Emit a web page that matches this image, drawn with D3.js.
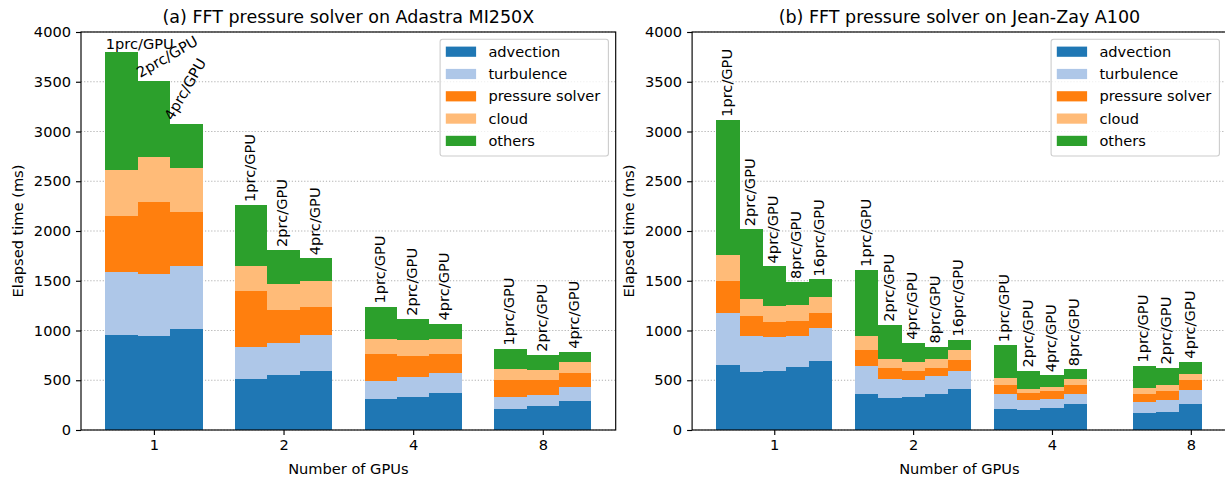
<!DOCTYPE html>
<html>
<head>
<meta charset="utf-8">
<script src="https://cdn.jsdelivr.net/npm/d3@7"></script>
<style>
  html, body { margin: 0; padding: 0; background: #fff; }
  svg { display: block; font-family: "DejaVu Sans", sans-serif; }
</style>
</head>
<body>
<svg id="chart" width="1225" height="477"></svg>
<script>
// GPU counts on the x axis
const gpuCounts = ["1", "2", "4", "8"];

// Processes per GPU tried for each GPU count
const adastraRuns = [[1, 2, 4], [1, 2, 4], [1, 2, 4], [1, 2, 4]];
const jeanZayRuns = [[1, 2, 4, 8, 16], [1, 2, 4, 8, 16], [1, 2, 4, 8], [1, 2, 4]];

// Time per component (ms), one value per bar, in run order
const adastraAdvection  = [950, 943, 1020, 517, 550, 591, 314, 328, 371, 214, 237, 288];
const adastraTurbulence = [634, 627, 631, 315, 326, 359, 181, 207, 201, 120, 118, 140];
const adastraPressure   = [570, 722, 537, 564, 335, 288, 268, 207, 191, 171, 143, 144];
const adastraCloud      = [463, 450, 450, 252, 252, 262, 147, 158, 147, 107, 104, 110];
const adastraOthers     = [1185, 765, 436, 614, 346, 225, 331, 217, 160, 207, 154, 104];

const jeanZayAdvection  = [658, 587, 597, 631, 698, 366, 322, 336, 359, 416, 213, 197, 217, 257, 167, 183, 263];
const jeanZayTurbulence = [516, 356, 333, 312, 325, 275, 191, 171, 181, 181, 147, 103, 96, 106, 116, 120, 140];
const jeanZayPressure   = [326, 205, 154, 154, 148, 168, 111, 90, 88, 111, 90, 73, 77, 90, 77, 87, 97];
const jeanZayCloud      = [258, 164, 161, 155, 168, 134, 87, 88, 87, 97, 73, 40, 43, 60, 63, 60, 63];
const jeanZayOthers     = [1359, 705, 399, 235, 174, 668, 346, 191, 124, 104, 330, 184, 117, 97, 224, 177, 124];

const seriesNames = ["advection", "turbulence", "pressure solver", "cloud", "others"];
const seriesColors = ["#1f77b4", "#aec7e8", "#ff7f0e", "#ffbb78", "#2ca02c"];

const yTicks = [0, 500, 1000, 1500, 2000, 2500, 3000, 3500, 4000];

const svg = d3.select("#chart");
const FS = 14.6;       // base font size
const TOP = 32, BOTTOM = 430;

const panels = [
  {
    title: "(a) FFT pressure solver on Adastra MI250X",
    left: 81, right: 615.7,
    runs: adastraRuns,
    series: [adastraAdvection, adastraTurbulence, adastraPressure, adastraCloud, adastraOthers],
    barWidth: 0.25, centreSlot: 1,
    // the tallest group gets slanted labels so they stay inside the axes
    labelAngle: (g, i) => g === 0 ? [0, 30, 60][i] : 90
  },
  {
    title: "(b) FFT pressure solver on Jean-Zay A100",
    left: 692.1, right: 1226.7,
    runs: jeanZayRuns,
    series: [jeanZayAdvection, jeanZayTurbulence, jeanZayPressure, jeanZayCloud, jeanZayOthers],
    barWidth: 1 / 6, centreSlot: 2,
    labelAngle: () => 90
  }
];

panels.forEach(p => drawPanel(p));

function drawPanel(p) {
  // flatten runs into bars
  const bars = [];
  let k = 0;
  p.runs.forEach((procs, g) => {
    procs.forEach((n, i) => {
      const vals = p.series.map(s => s[k]);
      let acc = 0;
      const segs = vals.map((v, si) => { const y0 = acc; acc += v; return { y0, y1: acc, si }; });
      bars.push({ g, i, procs: n, pos: g + (i - p.centreSlot) * p.barWidth, segs, total: acc });
      k++;
    });
  });

  const lo = d3.min(bars, b => b.pos) - p.barWidth / 2;
  const hi = d3.max(bars, b => b.pos) + p.barWidth / 2;
  const pad = 0.05 * (hi - lo);
  const x = d3.scaleLinear().domain([lo - pad, hi + pad]).range([p.left, p.right]);
  const y = d3.scaleLinear().domain([0, 4000]).range([BOTTOM, TOP]);

  const root = svg.append("g");

  // horizontal dotted grid
  root.append("g").selectAll("line").data(yTicks).join("line")
    .attr("x1", p.left).attr("x2", p.right)
    .attr("y1", d => y(d)).attr("y2", d => y(d))
    .attr("stroke", "#b0b0b0").attr("stroke-width", 1.1)
    .attr("stroke-dasharray", "1.2,1.9");

  // stacked bars
  const barG = root.append("g").attr("shape-rendering", "crispEdges");
  bars.forEach(b => {
    const bw = x(b.pos + p.barWidth / 2) - x(b.pos - p.barWidth / 2);
    barG.selectAll(null).data(b.segs).join("rect")
      .attr("x", x(b.pos - p.barWidth / 2))
      .attr("width", bw)
      .attr("y", d => y(d.y1))
      .attr("height", d => y(d.y0) - y(d.y1))
      .attr("fill", d => seriesColors[d.si]);
  });

  // run labels above each bar
  const labG = root.append("g").attr("font-size", FS).attr("fill", "#000");
  bars.forEach(b => {
    const ang = p.labelAngle(b.g, b.i);
    const txt = b.procs + "prc/GPU";
    const top = y(b.total);
    if (ang === 90) {
      labG.append("text")
        .attr("transform", `translate(${x(b.pos)},${top - 3}) rotate(-90)`)
        .attr("text-anchor", "start")
        .attr("y", 0.26 * FS)
        .text(txt);
    } else {
      const x0 = x(b.pos - p.barWidth / 2) + (ang === 0 ? 0.5 : 2.5);
      labG.append("text")
        .attr("transform", `translate(${x0},${top - 3}) rotate(${-ang})`)
        .attr("text-anchor", "start")
        .text(txt);
    }
  });

  // axes frame
  root.append("rect")
    .attr("x", p.left).attr("y", TOP)
    .attr("width", p.right - p.left).attr("height", BOTTOM - TOP)
    .attr("fill", "none").attr("stroke", "#000").attr("stroke-width", 1.15);

  // y axis
  const yAxis = d3.axisLeft(y).tickValues(yTicks).tickSize(5).tickPadding(5).tickFormat(d3.format("d"));
  const ya = root.append("g").attr("transform", `translate(${p.left},0)`).call(yAxis);
  ya.select(".domain").remove();
  ya.selectAll(".tick line").attr("stroke-width", 1.15);
  ya.selectAll(".tick text").attr("font-size", FS).attr("font-family", "DejaVu Sans").attr("fill", "#000");

  // x axis
  const xAxis = d3.axisBottom(x).tickValues(gpuCounts.map((_, i) => i))
    .tickFormat(i => gpuCounts[i]).tickSize(5).tickPadding(5);
  const xa = root.append("g").attr("transform", `translate(0,${BOTTOM})`).call(xAxis);
  xa.select(".domain").remove();
  xa.selectAll(".tick line").attr("stroke-width", 1.15);
  xa.selectAll(".tick text").attr("font-size", FS).attr("font-family", "DejaVu Sans").attr("fill", "#000");

  // axis labels
  root.append("text")
    .attr("x", (p.left + p.right) / 2).attr("y", 474)
    .attr("text-anchor", "middle").attr("font-size", FS)
    .text("Number of GPUs");
  root.append("text")
    .attr("transform", `translate(${p.left - 58.5},${(TOP + BOTTOM) / 2}) rotate(-90)`)
    .attr("text-anchor", "middle").attr("font-size", FS)
    .text("Elapsed time (ms)");

  // title
  root.append("text")
    .attr("x", (p.left + p.right) / 2).attr("y", 22.5)
    .attr("text-anchor", "middle").attr("font-size", 17.5)
    .text(p.title);

  // legend
  const lgRight = p.right - 7.3, lgTop = TOP + 7.3;
  const lgW = 168.3, lgH = 116.7;
  const lg = root.append("g").attr("transform", `translate(${lgRight - lgW},${lgTop})`);
  lg.append("rect").attr("width", lgW).attr("height", lgH).attr("rx", 2.5)
    .attr("fill", "#fff").attr("fill-opacity", 0.8)
    .attr("stroke", "#cccccc").attr("stroke-width", 1.1);
  seriesNames.forEach((name, si) => {
    const cy = 12.4 + si * 22.3;
    lg.append("rect").attr("x", 5.7).attr("y", cy - 5.1).attr("width", 30.3).attr("height", 10.2)
      .attr("fill", seriesColors[si]);
    lg.append("text").attr("x", 48.3).attr("y", cy + 5.2).attr("font-size", FS).text(name);
  });
}
</script>
</body>
</html>
